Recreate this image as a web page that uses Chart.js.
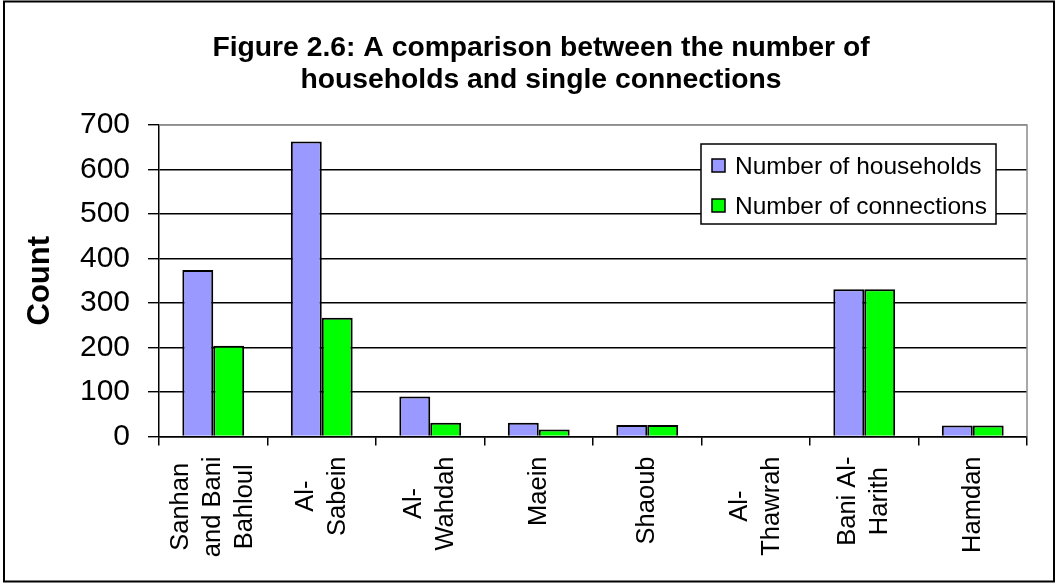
<!DOCTYPE html>
<html>
<head>
<meta charset="utf-8">
<script src="https://cdn.jsdelivr.net/npm/chart.js@4/dist/chart.umd.min.js"></script>
<style>
  html, body { margin: 0; padding: 0; background: #fff; }
  #wrap { width: 1058px; height: 584px; position: relative; }
</style>
</head>
<body>
<div id="wrap"><canvas id="c" width="1058" height="584"></canvas></div>
<script>
// Districts (multi-line category labels)
const categories = [
  ["Sanhan", "and Bani", "Bahloul"],
  ["Al-", "Sabein"],
  ["Al-", "Wahdah"],
  ["Maein"],
  ["Shaoub"],
  ["Al-", "Thawrah"],
  ["Bani Al-", "Harith"],
  ["Hamdan"]
];
const households  = [374, 663, 90, 31, 26, 0, 331, 25];
const connections = [204, 267, 31, 16, 26, 0, 331, 25];
const yTicks = [0, 100, 200, 300, 400, 500, 600, 700];
const titleLines = [
  "Figure 2.6: A comparison between the number of",
  "households and single connections"
];

const FONT = '"Liberation Sans", Arial, Helvetica, sans-serif';

// Outer frame, chart title, plot frame, category labels and legend
const decorations = {
  id: 'decorations',
  beforeDraw(chart) {
    const ctx = chart.ctx;
    ctx.save();
    ctx.fillStyle = '#fff';
    ctx.fillRect(0, 0, chart.width, chart.height);
    ctx.restore();
  },
  beforeDatasetsDraw(chart) {
    const ctx = chart.ctx, a = chart.chartArea;
    ctx.save();
    ctx.strokeStyle = '#8c8c8c';
    ctx.lineWidth = 1.5;
    ctx.beginPath();
    ctx.moveTo(a.left, a.top);
    ctx.lineTo(a.right, a.top);
    ctx.lineTo(a.right, a.bottom);
    ctx.stroke();
    ctx.restore();
  },
  afterDraw(chart) {
    const ctx = chart.ctx, a = chart.chartArea;
    const xs = chart.scales.x;
    ctx.save();

    // outer border
    ctx.strokeStyle = '#000';
    ctx.lineWidth = 2;
    ctx.strokeRect(4, 1.5, 1050, 580);

    // title
    ctx.fillStyle = '#000';
    ctx.font = 'bold 28.3px ' + FONT;
    ctx.textAlign = 'center';
    ctx.textBaseline = 'alphabetic';
    ctx.fillText(titleLines[0], 541, 56);
    ctx.fillText(titleLines[1], 541, 88);

    // category labels, rotated, lines centred inside a top-aligned block
    ctx.font = '25.5px ' + FONT;
    const lineH = 32;
    const top = a.bottom + 20;
    chart.data.labels.forEach((lab, i) => {
      const lines = Array.isArray(lab) ? lab : [lab];
      const maxW = Math.max(...lines.map(l => ctx.measureText(l).width));
      const cx = xs.getPixelForValue(i);
      ctx.save();
      ctx.translate(cx, top + maxW / 2);
      ctx.rotate(-Math.PI / 2);
      ctx.textAlign = 'center';
      ctx.textBaseline = 'middle';
      lines.forEach((l, k) => {
        ctx.fillText(l, 0, (k - (lines.length - 1) / 2) * lineH);
      });
      ctx.restore();
    });

    // legend
    const lx = 701, ly = 144, lw = 295, lh = 80;
    ctx.fillStyle = '#fff';
    ctx.fillRect(lx, ly, lw, lh);
    ctx.strokeStyle = '#000';
    ctx.lineWidth = 1.5;
    ctx.strokeRect(lx, ly, lw, lh);
    ctx.font = '24.5px ' + FONT;
    ctx.textAlign = 'left';
    ctx.textBaseline = 'middle';
    chart.data.datasets.forEach((ds, k) => {
      const yMid = ly + 22 + k * 40;
      ctx.fillStyle = ds.backgroundColor;
      ctx.fillRect(lx + 11, yMid - 7, 13, 13);
      ctx.strokeStyle = '#000';
      ctx.lineWidth = 1.5;
      ctx.strokeRect(lx + 11, yMid - 7, 13, 13);
      ctx.fillStyle = '#000';
      ctx.fillText(ds.label, lx + 34, yMid + 1);
    });

    ctx.restore();
  }
};

new Chart(document.getElementById('c'), {
  type: 'bar',
  data: {
    labels: categories,
    datasets: [
      {
        label: 'Number of households',
        data: households,
        backgroundColor: '#9999ff',
        borderColor: '#000',
        borderWidth: 2,
        barPercentage: 1.0,
        categoryPercentage: 0.57
      },
      {
        label: 'Number of connections',
        data: connections,
        backgroundColor: '#00ff00',
        borderColor: '#000',
        borderWidth: 2,
        barPercentage: 1.0,
        categoryPercentage: 0.57
      }
    ]
  },
  options: {
    responsive: false,
    animation: false,
    devicePixelRatio: 1,
    layout: { padding: { left: 0, top: 125, right: 31, bottom: 138.5 } },
    plugins: {
      legend: { display: false },
      title: { display: false },
      tooltip: { enabled: false }
    },
    scales: {
      x: {
        grid: {
          offset: true,
          drawOnChartArea: false,
          drawTicks: true,
          tickLength: 9,
          color: '#000',
          tickColor: '#000',
          lineWidth: 1.5
        },
        border: { color: '#000', width: 1.5 },
        ticks: { display: false }
      },
      y: {
        min: 0,
        max: 700,
        afterBuildTicks(scale) {
          scale.ticks = yTicks.map(v => ({ value: v }));
        },
        afterFit(scale) { scale.width = 159; },
        grid: {
          color: (c) => (c.tick && c.tick.value === 700 ? '#8c8c8c' : '#000'),
          tickColor: '#000',
          lineWidth: 1.4,
          tickLength: 11
        },
        border: { color: '#000', width: 1.5 },
        ticks: {
          color: '#000',
          padding: 18,
          font: { family: FONT, size: 30 }
        },
        title: {
          display: true,
          text: 'Count',
          color: '#000',
          font: { family: FONT, size: 31, weight: 'bold', lineHeight: 1 },
          padding: { top: 25, bottom: 0 }
        }
      }
    }
  },
  plugins: [decorations]
});
</script>
</body>
</html>
